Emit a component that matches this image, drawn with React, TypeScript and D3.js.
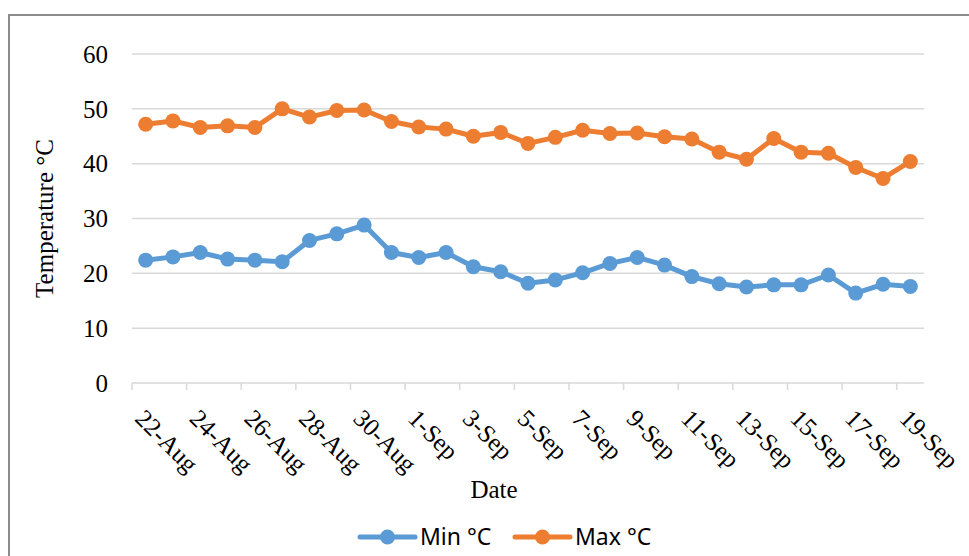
import React from 'react'
import { scaleBand, scaleLinear, line } from 'd3'

const dates = [
  '22-Aug', '23-Aug', '24-Aug', '25-Aug', '26-Aug', '27-Aug', '28-Aug', '29-Aug', '30-Aug', '31-Aug',
  '1-Sep', '2-Sep', '3-Sep', '4-Sep', '5-Sep', '6-Sep', '7-Sep', '8-Sep', '9-Sep', '10-Sep',
  '11-Sep', '12-Sep', '13-Sep', '14-Sep', '15-Sep', '16-Sep', '17-Sep', '18-Sep', '19-Sep',
]

const minTemp = [
  22.4, 23.0, 23.8, 22.6, 22.4, 22.1, 26.0, 27.2, 28.8, 23.8,
  22.9, 23.8, 21.2, 20.3, 18.2, 18.8, 20.1, 21.8, 22.9, 21.5,
  19.4, 18.1, 17.5, 17.9, 17.9, 19.7, 16.4, 18.0, 17.6,
]

const maxTemp = [
  47.2, 47.8, 46.6, 46.9, 46.6, 50.0, 48.5, 49.7, 49.8, 47.7,
  46.7, 46.3, 45.0, 45.7, 43.7, 44.8, 46.1, 45.5, 45.6, 44.9,
  44.5, 42.1, 40.8, 44.6, 42.1, 41.9, 39.3, 37.3, 40.4,
]

const yTicks = [0, 10, 20, 30, 40, 50, 60]

const series = [
  { name: 'Min °C', values: minTemp, color: '#5b9bd5' },
  { name: 'Max °C', values: maxTemp, color: '#ed7d31' },
]

const W = 969
const H = 556
const LEFT = 132
const RIGHT = 924
const TOP = 54
const BOTTOM = 383

export default function App(): JSX.Element {
  const x = scaleBand<string>().domain(dates).range([LEFT, RIGHT]).padding(0)
  const y = scaleLinear().domain([0, 60]).range([BOTTOM, TOP])
  const cx = (d: string) => (x(d) as number) + x.bandwidth() / 2

  const lineFn = line<number>()
    .x((_d, i) => cx(dates[i]))
    .y((d) => y(d))

  const serif = '"Liberation Serif", "Times New Roman", serif'
  const sans = '"Noto Sans", "Open Sans", sans-serif'

  return (
    <svg
      width={W}
      height={H}
      style={{ position: 'absolute', left: 0, top: 0, background: '#fff' }}
      xmlns="http://www.w3.org/2000/svg"
    >
      <rect x={9} y={15} width={W + 20} height={H + 20} fill="#fff" stroke="#8c8c8c" strokeWidth={2} />

      {/* gridlines */}
      <g>
        {yTicks.map((t) => (
          <line key={t} x1={LEFT} x2={RIGHT} y1={y(t)} y2={y(t)} stroke="#d9d9d9" strokeWidth={1.5} />
        ))}
      </g>

      {/* x tick marks */}
      <g>
        {dates.map((d, i) =>
          i % 2 === 0 ? (
            <line key={d} x1={x(d)} x2={x(d)} y1={BOTTOM} y2={BOTTOM + 7} stroke="#d9d9d9" strokeWidth={1.5} />
          ) : null,
        )}
      </g>

      {/* y labels */}
      <g fontFamily={serif} fontSize={25} fill="#000">
        {yTicks.map((t) => (
          <text key={t} x={108} y={y(t)} dy="0.35em" textAnchor="end">
            {t}
          </text>
        ))}
      </g>

      {/* x labels */}
      <g fontFamily={serif} fontSize={25} fill="#000">
        {dates.map((d, i) =>
          i % 2 === 0 ? (
            <text key={d} transform={`translate(${cx(d)},${BOTTOM + 25}) rotate(45)`} x={0} y={17}>
              {d}
            </text>
          ) : null,
        )}
      </g>

      {/* axis titles */}
      <text x={494} y={498} fontFamily={serif} fontSize={25} textAnchor="middle">
        Date
      </text>
      <text
        transform={`translate(53,${(TOP + BOTTOM) / 2}) rotate(-90)`}
        fontFamily={serif}
        fontSize={25}
        textAnchor="middle"
      >
        Temperature °C
      </text>

      {/* series */}
      {series.map((s) => (
        <g key={s.name}>
          <path d={lineFn(s.values) || ''} fill="none" stroke={s.color} strokeWidth={5} strokeLinejoin="round" />
          {s.values.map((v, i) => (
            <circle key={i} cx={cx(dates[i])} cy={y(v)} r={7.5} fill={s.color} />
          ))}
        </g>
      ))}

      {/* legend */}
      <g fontFamily={sans} fontSize={23} fill="#000">
        {series.map((s, i) => {
          const lx = 360 + i * 155
          return (
            <g key={s.name} transform={`translate(${lx},537)`}>
              <line x1={0} x2={55} y1={0} y2={0} stroke={s.color} strokeWidth={5} strokeLinecap="round" />
              <circle cx={27.5} cy={0} r={7.5} fill={s.color} />
              <text x={60} y={0} dy="0.36em">
                {s.name}
              </text>
            </g>
          )
        })}
      </g>
    </svg>
  )
}
